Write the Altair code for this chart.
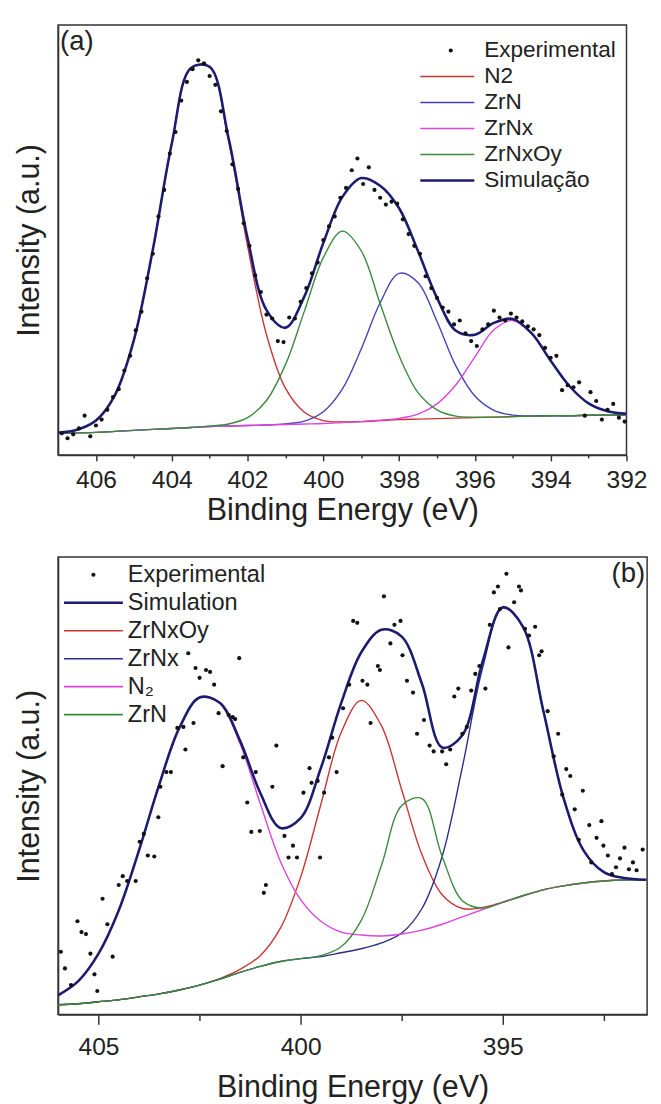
import altair as alt
import pandas as pd

FONT = "Liberation Sans"
NAVY = "#1b1b70"
RED = "#cc3333"
BLUE_A = "#4343b4"
BLUE_B = "#2c2c8c"
MAG = "#dd44dd"
GREEN = "#3a8a3a"

# ---------------- Panel (a) ----------------
A_E = [407.0, 406.5, 406.0, 405.5, 405.0, 404.5, 404.0, 403.5, 403.0, 402.5,
       402.0, 401.5, 401.0, 400.5, 400.0, 399.5, 399.0, 398.5, 398.0, 397.5,
       397.0, 396.5, 396.0, 395.5, 395.0, 394.5, 394.0, 393.5, 393.0, 392.5, 392.0]
A_N2 = [22.6, 25.6, 35, 61, 117, 209, 317, 394, 395, 320, 213, 122.5, 68, 43.5, 35, 33.6,
        34, 35, 36, 36.5, 37, 37.5, 38, 38.5, 39, 39.5, 40, 40, 40.5, 40.5, 41]
A_ZRN = [22, 22.5, 23, 24, 25, 26, 27, 28, 29, 29.5, 30, 30.5, 31.7, 34.5, 44, 67,
         108, 155, 185, 175.5, 136, 90.5, 60, 45.5, 40.6, 39.8, 40, 40, 40.5, 40.5, 41]
A_ZRNX = [22, 22.5, 23, 24, 25, 26, 27, 28, 29, 29.5, 30, 30.5, 31, 31.5, 32, 33,
          34, 35.3, 37.3, 41.5, 52, 71.5, 100, 127.5, 137, 123.5, 96, 70, 52.5, 44.5, 42]
A_ZRNXOY = [22, 22.5, 23, 24, 25, 26, 27, 28, 29.4, 31.5, 38, 55.5, 92, 146.5, 201, 228,
            208, 154, 101, 63.5, 46, 39.5, 38.5, 38.5, 39, 39.5, 40, 40, 40.5, 40.5, 41]
A_SIM = [22.6, 25.6, 35, 61, 117, 209, 317, 394, 395.4, 322.5, 221, 147.5, 129.7, 161.5, 216, 262.6,
         282, 274.3, 251.3, 207.5, 160, 126.5, 122.5, 134.5, 138.6, 123.8, 96, 70, 52.5, 44.5, 42]

A_EXP_E = [406.9, 406.75, 406.6, 406.45, 406.3, 406.15, 406.0, 405.85, 405.7, 405.55,
           405.4, 405.25, 405.1, 404.95, 404.8, 404.65, 404.5, 404.35, 404.2, 404.05,
           403.9, 403.75, 403.6, 403.45, 403.3, 403.15, 403.0, 402.85, 402.7, 402.55,
           402.4, 402.25, 402.1, 401.95, 401.8, 401.65, 401.5, 401.35, 401.2, 401.05,
           400.9, 400.75, 400.6, 400.45, 400.3, 400.15, 400.0, 399.85, 399.7, 399.55,
           399.4, 399.25, 399.1, 398.95, 398.8, 398.65, 398.5, 398.35, 398.2, 398.05,
           397.9, 397.75, 397.6, 397.45, 397.3, 397.15, 397.0, 396.85, 396.7, 396.55,
           396.4, 396.25, 396.1, 395.95, 395.8, 395.65, 395.5, 395.35, 395.2, 395.05,
           394.9, 394.75, 394.6, 394.45, 394.3, 394.15, 394.0, 393.85, 393.7, 393.55,
           393.4, 393.25, 393.1, 392.95, 392.8, 392.65, 392.5, 392.35, 392.2, 392.05]
A_EXP_I = [22, 17, 21, 27, 40, 19, 30, 36, 46, 59,
           67, 86, 101, 127, 146, 180, 205, 243, 270, 307,
           329, 361, 380, 393, 402, 399, 386, 377, 350, 330,
           296, 271, 236, 213, 183, 166, 143, 139, 116, 115,
           140, 139, 156, 170, 185, 196, 219, 233, 243, 262,
           272, 290, 302, 276, 293, 270, 262, 255, 258, 256,
           240, 225, 213, 205, 182, 170, 160, 150, 146, 133,
           137, 124, 116, 111, 128, 133, 147, 140, 137, 144,
           140, 136, 131, 128, 122, 109, 99, 101, 66, 71,
           69, 74, 40, 64, 55, 36, 46, 52, 38, 34]

A_DOM = ["Experimental", "N2", "ZrN", "ZrNx", "ZrNxOy", "Simulação"]
A_COL = ["#111111", RED, BLUE_A, MAG, GREEN, NAVY]
A_TICKS = [392, 393, 394, 395, 396, 397, 398, 399, 400, 401, 402, 403, 404, 405, 406]

# ---------------- Panel (b) ----------------
B_E = [406.0, 405.5, 405.0, 404.5, 404.0, 403.5, 403.0, 402.5, 402.0, 401.5,
       401.0, 400.5, 400.0, 399.5, 399.0, 398.5, 398.0, 397.5, 397.0, 396.5,
       396.0, 395.5, 395.0, 394.5, 394.0, 393.5, 393.0, 392.5, 392.0, 391.45]
B_N2 = [19.6, 34, 62, 106, 167, 234, 292, 323, 317, 276, 215, 156, 117, 95, 84, 81,
        80, 82, 86, 92, 99.5, 107, 114.3, 121, 127, 131, 134, 136, 137, 137]
B_ZRNXOY = [10, 11, 13, 15, 18, 21, 25, 30, 36.6, 46, 60, 88, 140, 214, 287, 320,
            294, 229, 163, 122, 108, 109, 114.6, 121, 127, 131, 134, 136, 137, 137]
B_ZRN = [10, 11, 13, 15, 18, 21, 25, 30, 36, 43, 49, 54, 57, 60, 69, 96,
         152, 213, 220, 161, 116, 108.5, 114.3, 121, 127, 131, 134, 136, 137, 137]
B_ZRNX = [10, 11, 13, 15, 18, 21, 25, 30, 36, 43, 49, 54, 57, 59, 63, 67,
          73, 83, 108, 161, 252, 353, 414, 395, 310, 221, 167, 145, 139, 137.3]
B_SIM = [19.6, 34, 62, 106, 167, 234, 292, 323, 317.6, 279, 226, 190, 200, 251, 317, 369,
         392, 385, 337, 272, 284.5, 359.5, 415, 395, 310, 221, 167, 145, 139, 137.3]

B_EXP_E = [405.93, 405.83, 405.68, 405.52, 405.42, 405.31, 405.2, 405.1, 405.03, 404.9,
           404.78, 404.65, 404.5, 404.4, 404.29, 404.08, 403.98, 403.88, 403.78, 403.62,
           403.52, 403.47, 403.32, 403.21, 403.05, 402.9, 402.85, 402.78, 402.65, 402.6,
           402.5, 402.34, 402.24, 402.14, 402.03, 401.93, 401.78, 401.68, 401.62, 401.52,
           401.42, 401.32, 401.22, 401.11, 401.01, 400.91, 400.86, 400.7, 400.6, 400.4,
           400.3, 400.19, 400.09, 399.93, 399.78, 399.73, 399.58, 399.52, 399.42, 399.3,
           399.22, 399.11, 398.95, 398.8, 398.7, 398.6, 398.47, 398.35, 398.27, 398.09,
           398.04, 397.94, 397.78, 397.68, 397.53, 397.48, 397.37, 397.22, 397.12, 396.95,
           396.81, 396.71, 396.5, 396.4, 396.3, 396.2, 396.1, 396.0, 395.89, 395.78,
           395.68, 395.58, 395.43, 395.32, 395.22, 395.12, 395.07, 394.91, 394.86, 394.72,
           394.6, 394.55, 394.45, 394.35, 394.2, 394.1, 394.04, 393.89, 393.74, 393.63,
           393.53, 393.43, 393.33, 393.22, 393.12, 393.02, 392.86, 392.81, 392.68, 392.56,
           392.51, 392.4, 392.3, 392.2, 392.1, 391.99, 391.88, 391.78, 391.69, 391.54]
B_EXP_I = [64, 47, 30, 95, 84, 82, 62, 41, 24, 118,
           92, 59, 132, 141, 136, 136, 176, 184, 162, 161,
           201, 232, 247, 247, 292, 293, 270, 368, 297, 353,
           343, 351, 349, 336, 307, 253, 305, 303, 301, 363,
           262, 216, 186, 247, 187, 124, 132, 232, 274, 182,
           160, 172, 160, 226, 251, 236, 238, 160, 226, 262,
           282, 247, 312, 336, 401, 399, 340, 336, 297, 355,
           351, 426, 378, 397, 401, 366, 340, 328, 286, 300,
           274, 268, 268, 255, 270, 324, 332, 286, 293, 330,
           347, 355, 332, 397, 430, 436, 413, 449, 374, 420,
           436, 432, 393, 386, 395, 366, 370, 309, 263, 286,
           224, 250, 243, 209, 178, 228, 193, 155, 180, 197,
           172, 162, 143, 150, 159, 170, 148, 155, 147, 168]

B_DOM = ["Experimental", "Simulation", "ZrNxOy", "ZrNx", "N\u2082", "ZrN"]
B_COL = ["#111111", NAVY, RED, BLUE_B, MAG, GREEN]
B_TICKS = [392.5, 395, 397.5, 400, 402.5, 405]


def curve(xs, ys, name):
    return pd.DataFrame({"E": xs, "I": ys, "s": name})


def panel(E, curves, sim_name, sim, exp_e, exp_i, dom, col, xdom, ydom, w, h,
          ticks, major_mod, tick_major, tick_minor, lab_pad, title_pad, leg, tag, tag_x, tag_align):
    x = alt.X("E:Q",
              scale=alt.Scale(domain=xdom, reverse=True, nice=False, zero=False),
              axis=alt.Axis(values=ticks, title="Binding Energy (eV)",
                            labelExpr=f"datum.value % {major_mod} == 0 ? datum.label : ''",
                            tickSize={"condition": {"test": f"datum.value % {major_mod} == 0",
                                                    "value": tick_major}, "value": tick_minor},
                            labelPadding=lab_pad, titlePadding=title_pad,
                            labelFlush=False, labelOverlap=False, grid=False))
    y = alt.Y("I:Q", scale=alt.Scale(domain=ydom, nice=False, zero=False),
              axis=alt.Axis(labels=False, ticks=False, grid=False,
                            title="Intensity (a.u.)", titlePadding=13))
    color = alt.Color("s:N", scale=alt.Scale(domain=dom, range=col), legend=None)
    layers = []
    for name, ys in curves:
        layers.append(alt.Chart(curve(E, ys, name)).mark_line(
            strokeWidth=1.4, interpolate="catmull-rom").encode(x=x, y=y, color=color))
    layers.append(alt.Chart(curve(E, sim, sim_name)).mark_line(
        strokeWidth=2.6, interpolate="catmull-rom").encode(x=x, y=y, color=color))
    layers.append(alt.Chart(pd.DataFrame({"E": exp_e, "I": exp_i, "s": dom[0]}))
                  .mark_circle(size=18, opacity=1).encode(x=x, y=y, color=color))

    # legend (drawn inside the plot, as in the reference)
    x0, x1, dot_x, text_x, y0, dy, fs = leg
    widths = [0] + [1.6] * (len(dom) - 1)
    widths[dom.index(sim_name)] = 2.6
    ldf = pd.DataFrame({"s": dom, "row": list(range(len(dom))), "w": widths})
    base = alt.Chart(ldf).transform_calculate(py=f"{y0} + datum.row * {dy}")
    ly = alt.Y("py:Q", scale=None, axis=None)
    layers.append(base.transform_filter("datum.row > 0").mark_rule().encode(
        x=alt.value(x0), x2=alt.value(x1), y=ly, color=color,
        strokeWidth=alt.StrokeWidth("w:Q", scale=None, legend=None)))
    layers.append(base.transform_filter("datum.row == 0").mark_circle(size=18, opacity=1).encode(
        x=alt.value(dot_x), y=ly, color=color))
    layers.append(base.mark_text(align="left", baseline="middle", font=FONT, fontSize=fs,
                                 color="#222").encode(x=alt.value(text_x), y=ly, text="s:N"))

    layers.append(alt.Chart(pd.DataFrame({"t": [tag]})).mark_text(
        align=tag_align, baseline="top", font=FONT, fontSize=28, color="#222")
        .encode(x=alt.value(tag_x), y=alt.value(3), text="t:N"))
    return alt.layer(*layers).properties(width=w, height=h)


chart_a = panel(A_E, [("N2", A_N2), ("ZrN", A_ZRN), ("ZrNx", A_ZRNX), ("ZrNxOy", A_ZRNXOY)],
                "Simulação", A_SIM, A_EXP_E, A_EXP_I, A_DOM, A_COL, [392, 407], [0, 438],
                579, 438, A_TICKS, 2, 6, 3, 7, 4,
                (369, 424, 400, 434, 26, 26.5, 23), "(a)", 2, "left")
chart_b = panel(B_E, [("ZrNxOy", B_ZRNXOY), ("ZrNx", B_ZRNX), ("N\u2082", B_N2), ("ZrN", B_ZRN)],
                "Simulation", B_SIM, B_EXP_E, B_EXP_I, B_DOM, B_COL, [391.43, 406], [0, 466],
                600, 466, B_TICKS, 5, 10, 6, 11, 13,
                (6, 66, 36, 71, 18, 28.5, 24), "(b)", 598, "right")

chart = (alt.vconcat(chart_a, chart_b, spacing=30)
         .resolve_scale(color="independent", x="independent", y="independent")
         .properties(padding={"left": 5, "top": 6, "right": 0, "bottom": 0})
         .configure_view(stroke="#333", strokeWidth=1.5)
         .configure_axis(domainColor="#333", domainWidth=1.5, tickColor="#333", tickWidth=1.5,
                         labelFont=FONT, labelFontSize=25, labelColor="#222",
                         titleFont=FONT, titleFontSize=31, titleFontWeight="normal",
                         titleColor="#222"))

chart.save("out.html", embed_options={"renderer": "svg", "actions": False})
